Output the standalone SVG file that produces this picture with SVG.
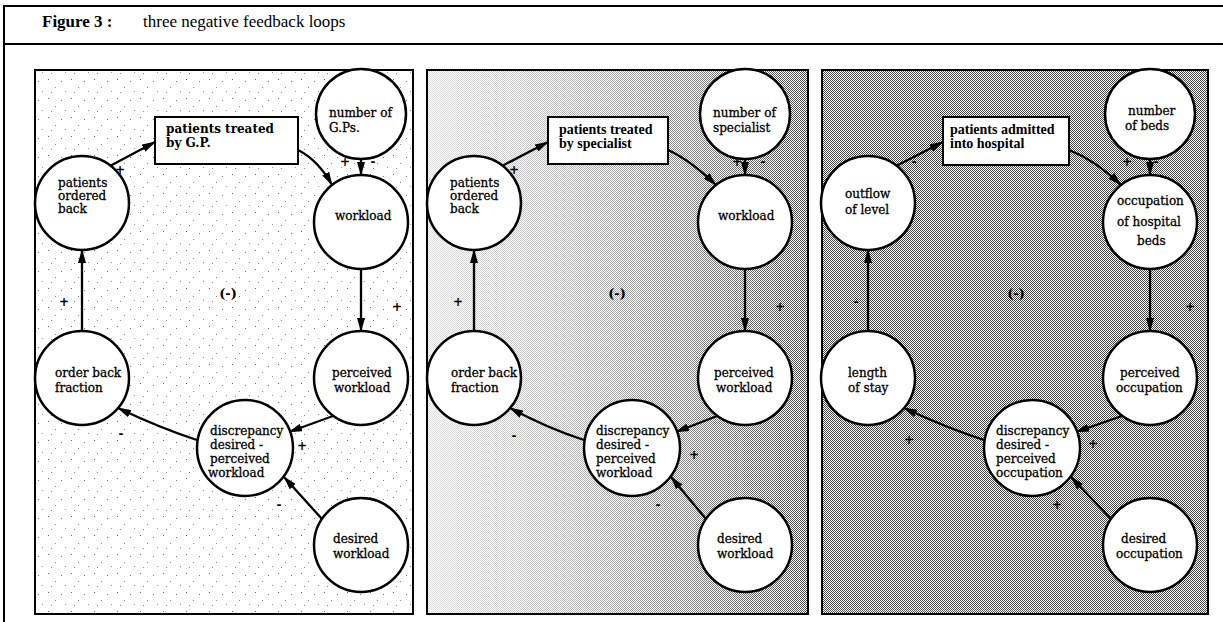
<svg xmlns="http://www.w3.org/2000/svg" width="1223" height="622" viewBox="0 0 1223 622">
  <defs>
    <style>
      .frame { stroke: #000; stroke-width: 2; fill: none; }
      .panel { stroke: #000; stroke-width: 2; }
      .node { fill: #fff; stroke: #000; stroke-width: 2.5; }
      .box { fill: #fff; stroke: #000; stroke-width: 2; }
      .lbl { font-family: "DejaVu Serif", "Liberation Serif", serif; font-size: 12px; fill: #000; stroke: #000; stroke-width: 0.3; }
      .blbl { font-family: "DejaVu Serif", "Liberation Serif", serif; font-size: 12px; font-weight: bold; fill: #000; }
      .blbl2 { font-family: "Liberation Serif", serif; font-size: 14px; font-weight: bold; fill: #000; }
      .sign { font-family: "DejaVu Serif", "Liberation Serif", serif; font-size: 12px; font-weight: bold; fill: #000; text-anchor: middle; }
      .loop { font-family: "DejaVu Serif", "Liberation Serif", serif; font-size: 13px; font-weight: bold; fill: #000; text-anchor: middle; }
      .head { font-family: "Liberation Serif", serif; font-size: 17px; fill: #000; }
      .edge { stroke: #000; stroke-width: 2.3; fill: none; marker-end: url(#tip); }
    </style>
    <marker id="tip" viewBox="0 0 14 8" refX="13" refY="4" markerWidth="14" markerHeight="8" markerUnits="userSpaceOnUse" orient="auto">
      <path d="M0,0 L14,4 L0,8 z" fill="#000"/>
    </marker>
    <!-- sparse speckle for the first panel -->
    <pattern id="speckle" width="23" height="19" patternUnits="userSpaceOnUse">
      <rect x="2" y="3" width="1" height="1" fill="#666"/>
      <rect x="9" y="11" width="1" height="1" fill="#888"/>
      <rect x="15" y="5" width="1" height="1" fill="#777"/>
      <rect x="19" y="15" width="1" height="1" fill="#999"/>
      <rect x="5" y="16" width="1" height="1" fill="#888"/>
    </pattern>
    <!-- fine checker screen -->
    <pattern id="checker" width="2" height="2" patternUnits="userSpaceOnUse">
      <rect x="0" y="0" width="1" height="1" fill="#000"/>
      <rect x="1" y="1" width="1" height="1" fill="#000"/>
    </pattern>
    <linearGradient id="fade" x1="0" y1="0" x2="1" y2="0">
      <stop offset="0" stop-color="#fff" stop-opacity="0.12"/>
      <stop offset="0.5" stop-color="#fff" stop-opacity="0.35"/>
      <stop offset="1" stop-color="#fff" stop-opacity="0.7"/>
    </linearGradient>
    <mask id="fadeMask" maskUnits="userSpaceOnUse" x="427" y="70" width="381" height="544">
      <rect x="427" y="70" width="381" height="544" fill="url(#fade)"/>
    </mask>
  </defs>

  <rect width="1223" height="622" fill="#fff"/>

  <!-- outer frame and title bar -->
  <g id="frame">
    <line class="frame" x1="4" y1="6" x2="1223" y2="6"/>
    <line class="frame" x1="4" y1="44" x2="1223" y2="44"/>
    <line class="frame" x1="4" y1="5" x2="4" y2="622"/>
    <text class="head" x="42" y="27" font-weight="bold">Figure 3 :</text>
    <text class="head" x="143" y="27">three negative feedback loops</text>
  </g>

  <!-- panel backgrounds -->
  <g id="panels">
    <rect x="35" y="70" width="378" height="544" fill="#fff"/>
    <rect x="35" y="70" width="378" height="544" fill="url(#speckle)"/>
    <rect class="panel" x="35" y="70" width="378" height="544" fill="none"/>

    <rect x="427" y="70" width="381" height="544" fill="#fff"/>
    <rect x="427" y="70" width="381" height="544" fill="url(#checker)" mask="url(#fadeMask)"/>
    <rect class="panel" x="427" y="70" width="381" height="544" fill="none"/>

    <rect x="822" y="70" width="386" height="544" fill="#fff"/>
    <rect x="822" y="70" width="386" height="544" fill="url(#checker)" opacity="0.72"/>
    <rect class="panel" x="822" y="70" width="386" height="544" fill="none"/>
  </g>

  <!-- connectors -->
  <g id="connectors">
    <!-- loop 1 -->
    <path class="edge" d="M110,166 L155,142"/>
    <path class="edge" d="M298,150 Q318,160 332,185"/>
    <path class="edge" d="M361,159 L361,175"/>
    <path class="edge" d="M361,269 L361,331"/>
    <path class="edge" d="M333,416 L289,432"/>
    <path class="edge" d="M322,519 L284,477"/>
    <path class="edge" d="M197,440 Q160,428 118,408"/>
    <path class="edge" d="M82,331 L82,250"/>
    <!-- loop 2 -->
    <path class="edge" d="M502,166 L548,142"/>
    <path class="edge" d="M668,150 Q690,160 716,185"/>
    <path class="edge" d="M745,159 L745,175"/>
    <path class="edge" d="M745,269 L745,331"/>
    <path class="edge" d="M717,416 L676,432"/>
    <path class="edge" d="M706,519 L671,477"/>
    <path class="edge" d="M584,440 Q547,428 510,408"/>
    <path class="edge" d="M474,331 L474,250"/>
    <!-- loop 3 -->
    <path class="edge" d="M896,166 L943,142"/>
    <path class="edge" d="M1069,150 Q1095,160 1121,185"/>
    <path class="edge" d="M1150,159 L1150,175"/>
    <path class="edge" d="M1150,269 L1150,331"/>
    <path class="edge" d="M1122,416 L1076,432"/>
    <path class="edge" d="M1111,519 L1071,477"/>
    <path class="edge" d="M984,440 Q947,428 904,408"/>
    <path class="edge" d="M868,331 L868,250"/>

    <!-- polarity signs -->
    <text class="sign" x="120" y="174">+</text>
    <text class="sign" x="345" y="166">+</text>
    <text class="sign" x="373" y="166">-</text>
    <text class="sign" x="397" y="311">+</text>
    <text class="sign" x="64" y="306">+</text>
    <text class="sign" x="121" y="438">-</text>
    <text class="sign" x="302" y="450">+</text>
    <text class="sign" x="279" y="509">-</text>

    <text class="sign" x="514" y="174">+</text>
    <text class="sign" x="737" y="166">+</text>
    <text class="sign" x="763" y="166">-</text>
    <text class="sign" x="780" y="311">+</text>
    <text class="sign" x="458" y="306">+</text>
    <text class="sign" x="514" y="440">-</text>
    <text class="sign" x="694" y="459">+</text>
    <text class="sign" x="658" y="509">-</text>

    <text class="sign" x="914" y="166">-</text>
    <text class="sign" x="1127" y="166">+</text>
    <text class="sign" x="1156" y="166">-</text>
    <text class="sign" x="1190" y="311">+</text>
    <text class="sign" x="856" y="306">-</text>
    <text class="sign" x="909" y="444">+</text>
    <text class="sign" x="1093" y="448">+</text>
    <text class="sign" x="1057" y="509">+</text>

    <text class="loop" x="228" y="298">(-)</text>
    <text class="loop" x="617" y="298">(-)</text>
    <text class="loop" x="1016" y="298">(-)</text>
  </g>

  <!-- loop 1: general practitioner -->
  <g id="gp-number"><circle class="node" cx="361" cy="114" r="45"/>
    <text class="lbl" x="329" y="117">number of</text><text class="lbl" x="329" y="132">G.Ps.</text></g>
  <g id="gp-treated"><rect class="box" x="155" y="117" width="143" height="47"/>
    <text class="blbl" x="166" y="133">patients treated</text><text class="blbl" x="166" y="147">by G.P.</text></g>
  <g id="gp-workload"><circle class="node" cx="361" cy="222" r="47"/>
    <text class="lbl" x="335" y="220">workload</text></g>
  <g id="gp-ordered-back"><circle class="node" cx="82" cy="203" r="47"/>
    <text class="lbl" x="58" y="187">patients</text><text class="lbl" x="58" y="200">ordered</text><text class="lbl" x="58" y="213">back</text></g>
  <g id="gp-fraction"><circle class="node" cx="82" cy="378" r="47"/>
    <text class="lbl" x="55" y="377">order back</text><text class="lbl" x="55" y="392">fraction</text></g>
  <g id="gp-perceived"><circle class="node" cx="361" cy="378" r="47"/>
    <text class="lbl" x="332" y="377">perceived</text><text class="lbl" x="334" y="392">workload</text></g>
  <g id="gp-discrepancy"><circle class="node" cx="245" cy="448" r="48"/>
    <text class="lbl" x="210" y="435">discrepancy</text><text class="lbl" x="210" y="449">desired -</text><text class="lbl" x="210" y="463">perceived</text><text class="lbl" x="208" y="477">workload</text></g>
  <g id="gp-desired"><circle class="node" cx="361" cy="545" r="47"/>
    <text class="lbl" x="333" y="543">desired</text><text class="lbl" x="333" y="558">workload</text></g>

  <!-- loop 2: specialist -->
  <g id="sp-number"><circle class="node" cx="745" cy="114" r="45"/>
    <text class="lbl" x="713" y="117">number of</text><text class="lbl" x="713" y="132">specialist</text></g>
  <g id="sp-treated"><rect class="box" x="548" y="117" width="120" height="47"/>
    <text class="blbl2" x="559" y="134">patients treated</text><text class="blbl2" x="559" y="148">by specialist</text></g>
  <g id="sp-workload"><circle class="node" cx="745" cy="222" r="47"/>
    <text class="lbl" x="718" y="220">workload</text></g>
  <g id="sp-ordered-back"><circle class="node" cx="474" cy="203" r="47"/>
    <text class="lbl" x="450" y="187">patients</text><text class="lbl" x="450" y="200">ordered</text><text class="lbl" x="450" y="213">back</text></g>
  <g id="sp-fraction"><circle class="node" cx="474" cy="378" r="47"/>
    <text class="lbl" x="451" y="377">order back</text><text class="lbl" x="451" y="392">fraction</text></g>
  <g id="sp-perceived"><circle class="node" cx="745" cy="378" r="47"/>
    <text class="lbl" x="714" y="377">perceived</text><text class="lbl" x="716" y="392">workload</text></g>
  <g id="sp-discrepancy"><circle class="node" cx="632" cy="448" r="48"/>
    <text class="lbl" x="596" y="435">discrepancy</text><text class="lbl" x="596" y="449">desired -</text><text class="lbl" x="596" y="463">perceived</text><text class="lbl" x="596" y="477">workload</text></g>
  <g id="sp-desired"><circle class="node" cx="745" cy="545" r="47"/>
    <text class="lbl" x="717" y="543">desired</text><text class="lbl" x="717" y="558">workload</text></g>

  <!-- loop 3: hospital beds -->
  <g id="hb-number"><circle class="node" cx="1150" cy="114" r="45"/>
    <text class="lbl" x="1128" y="115">number</text><text class="lbl" x="1125" y="130">of beds</text></g>
  <g id="hb-admitted"><rect class="box" x="943" y="117" width="126" height="48"/>
    <text class="blbl2" x="950" y="134">patients admitted</text><text class="blbl2" x="950" y="148">into hospital</text></g>
  <g id="hb-occupation"><circle class="node" cx="1150" cy="222" r="47"/>
    <text class="lbl" x="1117" y="205">occupation</text><text class="lbl" x="1117" y="226">of hospital</text><text class="lbl" x="1137" y="245">beds</text></g>
  <g id="hb-outflow"><circle class="node" cx="868" cy="203" r="47"/>
    <text class="lbl" x="845" y="198">outflow</text><text class="lbl" x="845" y="214">of level</text></g>
  <g id="hb-stay"><circle class="node" cx="868" cy="378" r="47"/>
    <text class="lbl" x="848" y="377">length</text><text class="lbl" x="848" y="392">of stay</text></g>
  <g id="hb-perceived"><circle class="node" cx="1150" cy="378" r="47"/>
    <text class="lbl" x="1120" y="377">perceived</text><text class="lbl" x="1116" y="392">occupation</text></g>
  <g id="hb-discrepancy"><circle class="node" cx="1032" cy="448" r="48"/>
    <text class="lbl" x="996" y="435">discrepancy</text><text class="lbl" x="996" y="449">desired -</text><text class="lbl" x="996" y="463">perceived</text><text class="lbl" x="996" y="477">occupation</text></g>
  <g id="hb-desired"><circle class="node" cx="1150" cy="545" r="47"/>
    <text class="lbl" x="1121" y="543">desired</text><text class="lbl" x="1116" y="558">occupation</text></g>
</svg>
